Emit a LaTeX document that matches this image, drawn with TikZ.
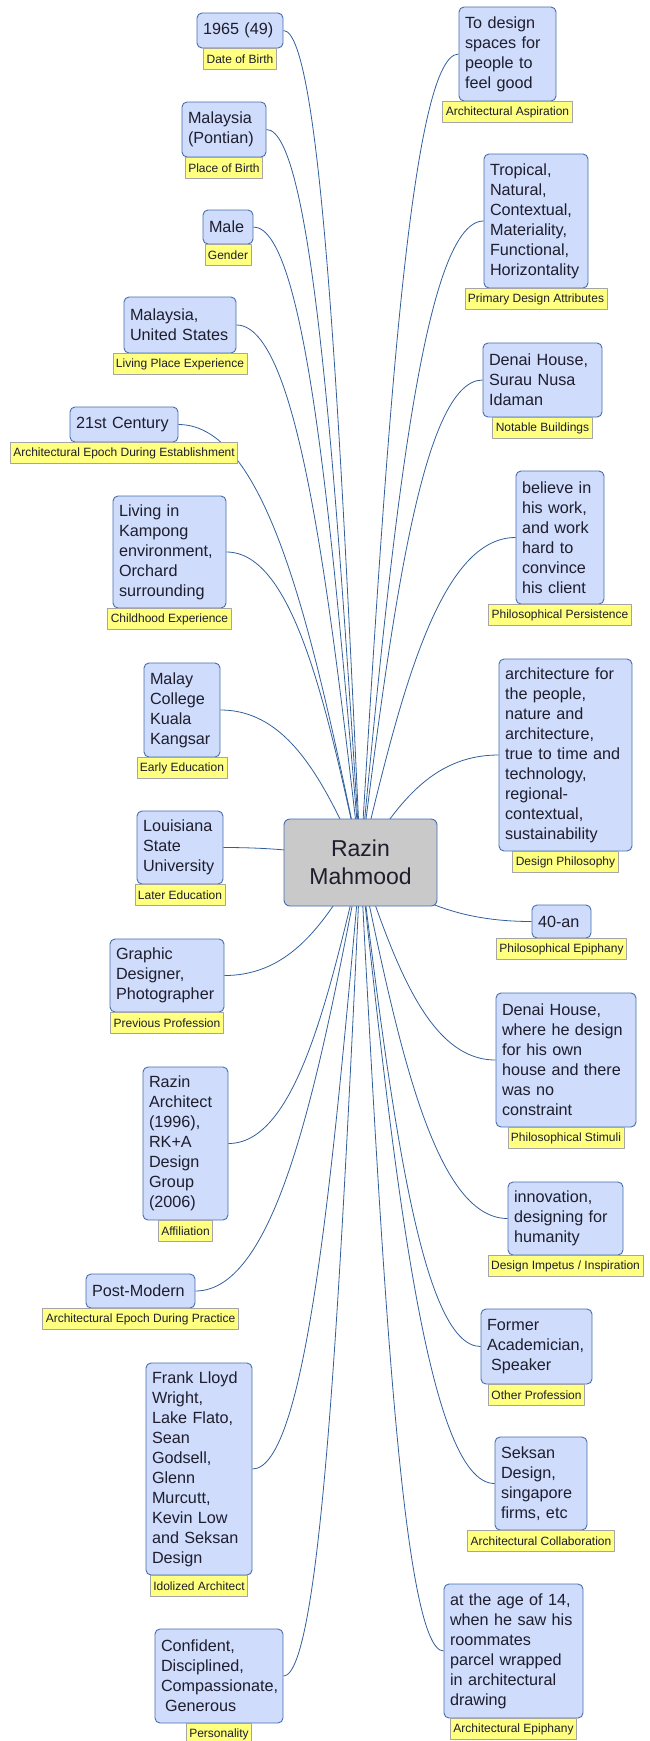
\documentclass[tikz,border=0pt]{standalone}
\usepackage{fontspec}
\setmainfont{Liberation Sans}
\usetikzlibrary{calc,backgrounds}
\definecolor{leaffill}{RGB}{207,220,252}
\definecolor{leafline}{RGB}{70,110,175}
\definecolor{hubfill}{RGB}{201,201,201}
\definecolor{tagfill}{RGB}{255,255,128}
\definecolor{tagline}{RGB}{165,165,165}
\definecolor{linkcol}{RGB}{50,95,155}
\definecolor{inkcol}{RGB}{30,30,45}
\tikzset{
	hubbox/.style={rectangle, rounded corners=6pt, draw=leafline, fill=hubfill, line width=0.9pt,
		minimum width=153pt, minimum height=87pt, align=center, text=inkcol,
		font=\fontsize{23}{28}\selectfont},
	leafbox/.style={rectangle, rounded corners=5pt, draw=leafline, fill=leaffill, line width=0.9pt,
		inner xsep=6pt, inner ysep=3pt, align=left, text=inkcol,
		font=\fontsize{16.2}{20}\selectfont},
	tagbox/.style={rectangle, draw=tagline, fill=tagfill, line width=0.7pt, anchor=north,
		inner xsep=3pt, inner ysep=0pt, minimum height=21pt, text=inkcol,
		font=\fontsize{12}{14}\selectfont},
	branch/.style={draw=linkcol, line width=0.8pt,
		to path={let \p1=(\tikztostart), \p2=(\tikztotarget) in
			.. controls ({\x1+0.25*(\x2-\x1)},{\y1+0.5*(\y2-\y1)}) and ({\x1+0.5*(\x2-\x1)},\y2) .. (\tikztotarget)}},
}
\begin{document}
\begin{tikzpicture}[x=1pt, y=-1pt, line join=round, line cap=round]
	\useasboundingbox (0,0) rectangle (649,1741);
	\node[hubbox] (hub) at (360.5,862.5) {Razin\\Mahmood};
	\node[leafbox, text width=74pt, minimum height=35pt] (dob) at (240,30.5) {1965 (49)};
	\node[tagbox] (dobtag) at (dob.south) {Date of Birth};
	\node[leafbox, text width=72pt, minimum height=55pt] (pob) at (224,129.5) {Malaysia\\(Pontian)};
	\node[tagbox] (pobtag) at (pob.south) {Place of Birth};
	\node[leafbox, text width=38pt, minimum height=34pt] (gender) at (228,227) {Male};
	\node[tagbox] (gendertag) at (gender.south) {Gender};
	\node[leafbox, text width=100pt, minimum height=56pt] (living) at (180,325) {Malaysia,\\United States};
	\node[tagbox] (livingtag) at (living.south) {Living Place Experience};
	\node[leafbox, text width=96pt, minimum height=35pt] (epochest) at (124,424.5) {21st Century};
	\node[tagbox] (epochesttag) at (epochest.south) {Architectural Epoch During Establishment};
	\node[leafbox, text width=101pt, minimum height=112pt] (child) at (169.5,552) {Living in\\Kampong\\environment,\\Orchard\\surrounding};
	\node[tagbox] (childtag) at (child.south) {Childhood Experience};
	\node[leafbox, text width=64pt, minimum height=94pt] (early) at (182,710) {Malay\\College\\Kuala\\Kangsar};
	\node[tagbox] (earlytag) at (early.south) {Early Education};
	\node[leafbox, text width=74pt, minimum height=73pt] (later) at (180,847.5) {Louisiana\\State\\University};
	\node[tagbox] (latertag) at (later.south) {Later Education};
	\node[leafbox, text width=102pt, minimum height=73pt] (prev) at (167,975.5) {Graphic\\Designer,\\Photographer};
	\node[tagbox] (prevtag) at (prev.south) {Previous Profession};
	\node[leafbox, text width=73pt, minimum height=153pt] (affil) at (185.5,1143.5) {Razin\\Architect\\(1996),\\RK+A\\Design\\Group\\(2006)};
	\node[tagbox] (affiltag) at (affil.south) {Affiliation};
	\node[leafbox, text width=97pt, minimum height=34pt] (epochprac) at (140.5,1291) {Post-Modern};
	\node[tagbox] (epochpractag) at (epochprac.south) {Architectural Epoch During Practice};
	\node[leafbox, text width=94pt, minimum height=212pt] (idol) at (199,1469) {Frank Lloyd\\Wright,\\Lake Flato,\\Sean\\Godsell,\\Glenn\\Murcutt,\\Kevin Low\\and Seksan\\Design};
	\node[tagbox] (idoltag) at (idol.south) {Idolized Architect};
	\node[leafbox, text width=116pt, minimum height=94pt] (person) at (219,1676) {Confident,\\Disciplined,\\Compassionate,\\\hspace*{4pt}Generous};
	\node[tagbox] (persontag) at (person.south) {Personality};
	\node[leafbox, text width=85pt, minimum height=94pt] (aspire) at (507.5,54) {To design\\spaces for\\people to\\feel good};
	\node[tagbox] (aspiretag) at (aspire.south) {Architectural Aspiration};
	\node[leafbox, text width=92pt, minimum height=134pt] (attrib) at (536,221) {Tropical,\\Natural,\\Contextual,\\Materiality,\\Functional,\\Horizontality};
	\node[tagbox] (attribtag) at (attrib.south) {Primary Design Attributes};
	\node[leafbox, text width=107pt, minimum height=74pt] (notable) at (542.5,380) {Denai House,\\Surau Nusa\\Idaman};
	\node[tagbox] (notabletag) at (notable.south) {Notable Buildings};
	\node[leafbox, text width=76pt, minimum height=133pt] (persist) at (560,537.5) {believe in\\his work,\\and work\\hard to\\convince\\his client};
	\node[tagbox] (persisttag) at (persist.south) {Philosophical Persistence};
	\node[leafbox, text width=121pt, minimum height=192pt] (philo) at (565.5,755) {architecture for\\the people,\\nature and\\architecture,\\true to time and\\technology,\\regional-\\contextual,\\sustainability};
	\node[tagbox] (philotag) at (philo.south) {Design Philosophy};
	\node[leafbox, text width=47pt, minimum height=33pt] (epiph) at (561.5,921.5) {40-an};
	\node[tagbox] (epiphtag) at (epiph.south) {Philosophical Epiphany};
	\node[leafbox, text width=128pt, minimum height=134pt] (stimuli) at (566,1060) {Denai House,\\where he design\\for his own\\house and there\\was no\\constraint};
	\node[tagbox] (stimulitag) at (stimuli.south) {Philosophical Stimuli};
	\node[leafbox, text width=103pt, minimum height=73pt] (impetus) at (565.5,1218.5) {innovation,\\designing for\\humanity};
	\node[tagbox] (impetustag) at (impetus.south) {Design Impetus / Inspiration};
	\node[leafbox, text width=99pt, minimum height=75pt] (otherprof) at (536.5,1346.5) {Former\\Academician,\\\hspace*{4pt}Speaker};
	\node[tagbox] (otherproftag) at (otherprof.south) {Other Profession};
	\node[leafbox, text width=80pt, minimum height=93pt] (collab) at (541,1483.5) {Seksan\\Design,\\singapore\\firms, etc};
	\node[tagbox] (collabtag) at (collab.south) {Architectural Collaboration};
	\node[leafbox, text width=127pt, minimum height=134pt] (archepiph) at (513.5,1651) {at the age of 14,\\when he saw his\\roommates\\parcel wrapped\\in architectural\\drawing};
	\node[tagbox] (archepiphtag) at (archepiph.south) {Architectural Epiphany};
	\begin{scope}[on background layer]
		\draw[branch] (hub.center) to (dob.east);
		\draw[branch] (hub.center) to (pob.east);
		\draw[branch] (hub.center) to (gender.east);
		\draw[branch] (hub.center) to (living.east);
		\draw[branch] (hub.center) to (epochest.east);
		\draw[branch] (hub.center) to (child.east);
		\draw[branch] (hub.center) to (early.east);
		\draw[branch] (hub.center) to (later.east);
		\draw[branch] (hub.center) to (prev.east);
		\draw[branch] (hub.center) to (affil.east);
		\draw[branch] (hub.center) to (epochprac.east);
		\draw[branch] (hub.center) to (idol.east);
		\draw[branch] (hub.center) to (person.east);
		\draw[branch] (hub.center) to (aspire.west);
		\draw[branch] (hub.center) to (attrib.west);
		\draw[branch] (hub.center) to (notable.west);
		\draw[branch] (hub.center) to (persist.west);
		\draw[branch] (hub.center) to (philo.west);
		\draw[branch] (hub.center) to (epiph.west);
		\draw[branch] (hub.center) to (stimuli.west);
		\draw[branch] (hub.center) to (impetus.west);
		\draw[branch] (hub.center) to (otherprof.west);
		\draw[branch] (hub.center) to (collab.west);
		\draw[branch] (hub.center) to (archepiph.west);
	\end{scope}
\end{tikzpicture}
\end{document}
